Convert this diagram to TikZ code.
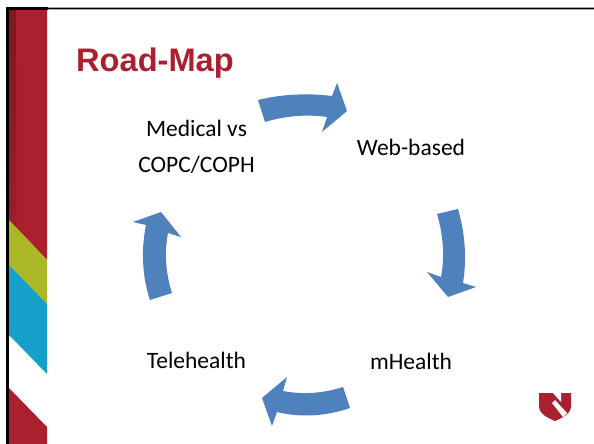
\documentclass[tikz,border=0pt]{standalone}
\usepackage{fontspec}
\setmainfont{Carlito}
\newfontfamily\titlefont{Liberation Sans}
\usetikzlibrary{positioning}
\definecolor{nured}{RGB}{170,32,47}
\definecolor{nudark}{RGB}{122,24,36}
\definecolor{numid}{RGB}{155,29,43}
\definecolor{nuolive}{RGB}{170,184,38}
\definecolor{nublue}{RGB}{20,160,200}
\definecolor{arrowblue}{RGB}{79,129,189}
\tikzstyle{label} = [inner sep=0pt,
text centered,
text=black,
font=\fontsize{23.5}{36}\selectfont]
\tikzstyle{heading} = [inner sep=0pt,
text=nured,
font=\titlefont\bfseries\fontsize{32.6}{36}\selectfont]
\tikzstyle{blockarrow} = [fill=arrowblue,draw=none]

\begin{document}
\begin{tikzpicture}[x=1pt,y=-1pt]
\useasboundingbox (0,0) rectangle (594,444);
\fill[white] (0,0) rectangle (594,444);

% side band
\fill[nured] (9,8) -- (47,8) -- (47,260) -- (9,220) -- cycle;
\shade[top color=nudark,bottom color=numid] (9,8) -- (16,8) -- (16,227) -- (9,220) -- cycle;
\fill[nuolive] (9,220) -- (47,260) -- (47,304) -- (9,265) -- cycle;
\fill[nublue] (9,265) -- (47,304) -- (47,374) -- (9,335) -- cycle;
\fill[nured] (9,388) -- (47,427) -- (47,444) -- (9,444) -- cycle;
\draw[line width=3pt] (7.5,444) -- (7.5,8.5) -- (48,8.5);
\draw[line width=3pt,black!35] (48,8.5) -- (594,8.5);
\draw[line width=1.6pt] (48,8.5) -- (594,8.5);

\node (title) [heading,anchor=west] at (76,63) {Road-Map};

\node (medical) [label,align=center] at (196.5,147) {Medical vs\\COPC/COPH};
\node (web) [label] at (411,147) {Web-based};
\node (mhealth) [label] at (411,361) {mHealth};
\node (tele) [label] at (196.5,360) {Telehealth};

% arrows
\fill[blockarrow] (258,100) .. controls (282,94) and (308,93) .. (332,96) -- (337,83) -- (347,111)
  -- (322,132) -- (327,117) .. controls (306,114) and (285,116) .. (265,122) -- cycle;
\fill[blockarrow] (458,209) .. controls (465,233) and (467,258) .. (463,283) -- (476,287) -- (448,297)
  -- (427,272) -- (441,277) .. controls (445,256) and (443,234) .. (437,214) -- cycle;
\fill[blockarrow] (350,408) .. controls (327,416) and (301,418) .. (277,412) -- (272,426) -- (262,398)
  -- (287,377) -- (283,391) .. controls (304,395) and (324,393) .. (343,387) -- cycle;
\fill[blockarrow] (150,300) .. controls (142,276) and (141,250) .. (146,225) -- (133,222) -- (161,212)
  -- (181,237) -- (168,233) .. controls (164,254) and (166,274) .. (172,293) -- cycle;

% logo
\fill[nured] (539,393) -- (571,393) -- (571,406)
  .. controls (571,414) and (562,418) .. (555,421) .. controls (548,418) and (539,414) .. (539,406) -- cycle;
\fill[white] (552,392) -- (561,392) -- (561,402) -- cycle;
\fill[white] (552,403) -- (555,400) -- (567,413) -- (563,417) -- cycle;
\end{tikzpicture}
\end{document}
